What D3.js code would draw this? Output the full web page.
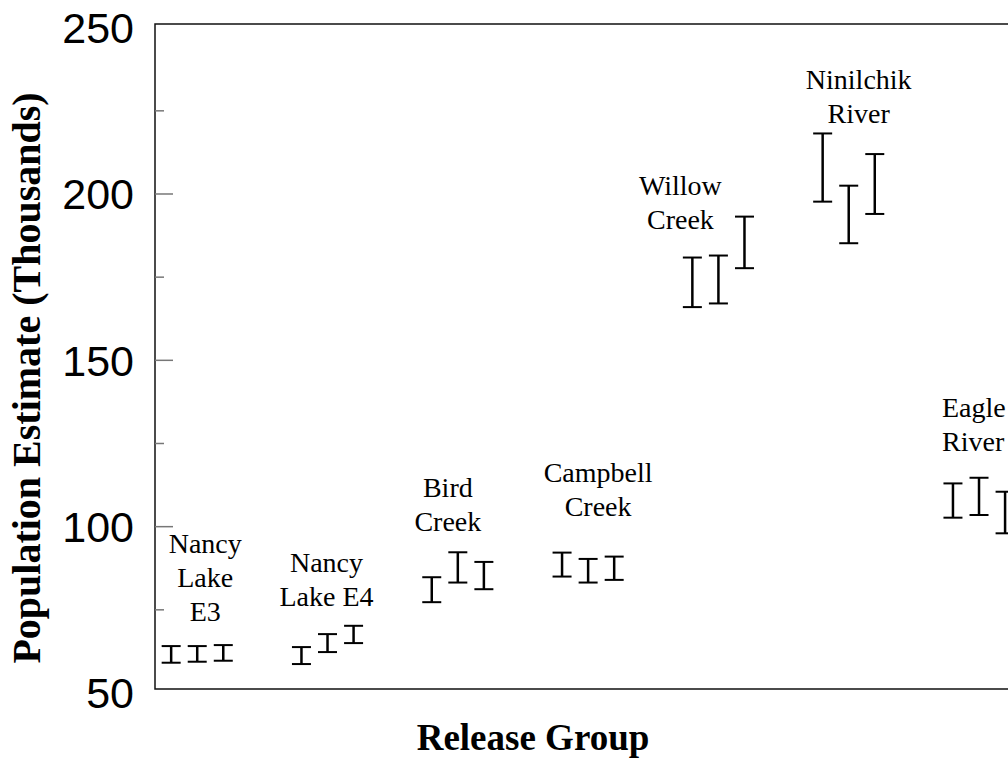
<!DOCTYPE html>
<html>
<head>
<meta charset="utf-8">
<script src="https://cdn.jsdelivr.net/npm/d3@7"></script>
<style>
  body { margin: 0; background: #fff; }
  svg { display: block; }
</style>
</head>
<body>
<div id="chart"></div>
<script>
// release groups and their label lines
const groups = ["Nancy Lake E3", "Nancy Lake E4", "Bird Creek", "Campbell Creek", "Willow Creek", "Ninilchik River", "Eagle River"];
const groupLabels = [["Nancy", "Lake", "E3"], ["Nancy", "Lake E4"], ["Bird", "Creek"], ["Campbell", "Creek"], ["Willow", "Creek"], ["Ninilchik", "River"], ["Eagle", "River"]];

// upper / lower interval bounds (thousands), three estimates per group
const upperBounds = [
  [64.1, 64.1, 64.4],
  [63.8, 67.7, 70.2],
  [84.8, 92.3, 89.4],
  [92.2, 90.3, 91.0],
  [180.9, 181.5, 193.2],
  [218.2, 202.5, 212.0],
  [113.0, 114.7, 110.5]
];
const lowerBounds = [
  [59.1, 59.4, 59.7],
  [58.7, 62.3, 65.0],
  [77.3, 83.2, 81.2],
  [85.0, 83.2, 84.0],
  [166.0, 167.1, 177.7],
  [197.7, 185.2, 194.0],
  [102.7, 103.5, 98.0]
];

const yTickLabels = [50, 100, 150, 200, 250];
const yMajorTicks = [100, 150, 200];
const yMinorTicks = [75, 125, 175, 225];

// label placement: offset from group centre (px), first baseline (px), anchor
const labelLayout = [
  { dx: 8, y: 553, anchor: "middle" },
  { dx: -1, y: 572, anchor: "middle" },
  { dx: -10, y: 497, anchor: "middle" },
  { dx: 10, y: 482, anchor: "middle" },
  { dx: -38, y: 195, anchor: "middle" },
  { dx: 10, y: 89, anchor: "middle" },
  { dx: -37, y: 417, anchor: "start" }
];

const width = 1008, height = 761;
const margin = { top: 24, left: 155, bottom: 72 };
const slotsPerGroup = 5;
const serif = "'Liberation Serif', 'Times New Roman', Times, serif";

const svg = d3.select("#chart").append("svg")
  .attr("width", width)
  .attr("height", height);

// flatten into one record per interval
const bars = [];
groups.forEach((g, gi) => {
  upperBounds[gi].forEach((u, k) => {
    bars.push({ group: g, slot: gi * slotsPerGroup + k, hi: u, lo: lowerBounds[gi][k] });
  });
});

const x = d3.scaleLinear()
  .domain([-0.62, 33])
  .range([margin.left, margin.left + 33.62 * 26.06]);

const y = d3.scaleLinear()
  .domain([51.2, 251.1])
  .range([height - margin.bottom, margin.top]);

const plotBottom = height - margin.bottom;
const plotRight = x(33);

// frame: left, top, bottom (right side runs off the page)
svg.append("path")
  .attr("d", `M${plotRight},${margin.top}H${margin.left}V${plotBottom}H${plotRight}`)
  .attr("fill", "none")
  .attr("stroke", "#111")
  .attr("stroke-width", 1.5);

// inward ticks
svg.selectAll(".major")
  .data(yMajorTicks)
  .join("line")
  .attr("class", "major")
  .attr("x1", margin.left).attr("x2", margin.left + 18)
  .attr("y1", d => y(d)).attr("y2", d => y(d))
  .attr("stroke", "#777").attr("stroke-width", 1.5);

svg.selectAll(".minor")
  .data(yMinorTicks)
  .join("line")
  .attr("class", "minor")
  .attr("x1", margin.left).attr("x2", margin.left + 9)
  .attr("y1", d => y(d)).attr("y2", d => y(d))
  .attr("stroke", "#777").attr("stroke-width", 1.5);

svg.selectAll(".ylab")
  .data(yTickLabels)
  .join("text")
  .attr("class", "ylab")
  .attr("x", margin.left - 21)
  .attr("y", d => y(d))
  .attr("dy", "0.36em")
  .attr("text-anchor", "end")
  .style("font-family", "'Liberation Sans', Arial, sans-serif")
  .style("font-size", "43px")
  .text(d => d);

// error bars
const capHalf = 9.5;
const bar = svg.append("g").selectAll("g")
  .data(bars)
  .join("g");

bar.append("line")
  .attr("x1", d => x(d.slot)).attr("x2", d => x(d.slot))
  .attr("y1", d => y(d.hi)).attr("y2", d => y(d.lo))
  .attr("stroke", "#000").attr("stroke-width", 2.5);

bar.selectAll(".cap")
  .data(d => [{ s: d.slot, v: d.hi }, { s: d.slot, v: d.lo }])
  .join("line")
  .attr("class", "cap")
  .attr("x1", d => x(d.s) - capHalf).attr("x2", d => x(d.s) + capHalf)
  .attr("y1", d => y(d.v)).attr("y2", d => y(d.v))
  .attr("stroke", "#000").attr("stroke-width", 2);

// group labels
const lineHeight = 34;
groupLabels.forEach((lines, gi) => {
  const lay = labelLayout[gi];
  const cx = x(gi * slotsPerGroup + 1) + lay.dx;
  svg.append("text")
    .attr("text-anchor", lay.anchor)
    .attr("font-family", serif)
    .attr("font-size", 28)
    .selectAll("tspan")
    .data(lines)
    .join("tspan")
    .attr("x", cx)
    .attr("y", (d, i) => lay.y + i * lineHeight)
    .style("font-family", serif)
    .text(d => d);
});

// axis titles
svg.append("text")
  .attr("x", 533)
  .attr("y", 750)
  .attr("text-anchor", "middle")
  .style("font-family", serif)
  .style("font-weight", "bold")
  .style("font-size", "37px")
  .text("Release Group");

svg.append("text")
  .attr("transform", "translate(40,378) rotate(-90)")
  .attr("text-anchor", "middle")
  .style("font-family", serif)
  .style("font-weight", "bold")
  .style("font-size", "40px")
  .text("Population Estimate (Thousands)");
</script>
</body>
</html>
